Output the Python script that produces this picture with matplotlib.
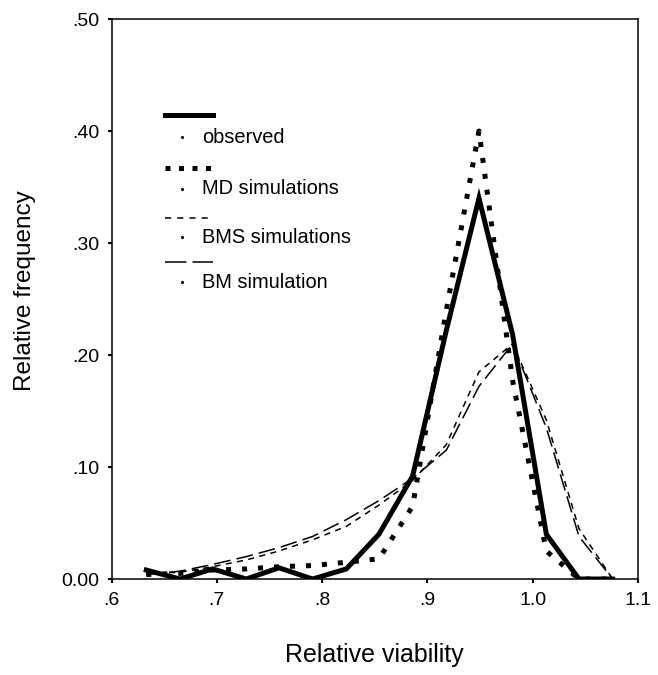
import matplotlib
matplotlib.use("Agg")
import matplotlib.pyplot as plt

# bin centres (relative viability) and relative frequencies
viability = [0.633, 0.665, 0.696, 0.728, 0.759, 0.791, 0.823, 0.854,
             0.886, 0.918, 0.949, 0.981, 1.013, 1.044, 1.076]
observed = [0.008, 0.0, 0.009, 0.0, 0.010, 0.0, 0.009, 0.040,
            0.092, 0.222, 0.340, 0.218, 0.040, 0.0, 0.0]
md_sim = [0.004, 0.005, 0.008, 0.009, 0.011, 0.012, 0.015, 0.018,
          0.065, 0.240, 0.400, 0.177, 0.025, 0.0, 0.0]
bms_sim = [0.005, 0.006, 0.011, 0.017, 0.025, 0.035, 0.047, 0.066,
           0.088, 0.120, 0.185, 0.210, 0.142, 0.045, 0.0]
bm_sim = [0.004, 0.007, 0.013, 0.020, 0.028, 0.038, 0.053, 0.070,
          0.090, 0.115, 0.172, 0.210, 0.135, 0.038, 0.0]

series_names = ["observed", "MD simulations", "BMS simulations", "BM simulation"]
xtick_vals = [0.6, 0.7, 0.8, 0.9, 1.0, 1.1]
xtick_labels = [".6", ".7", ".8", ".9", "1.0", "1.1"]
ytick_vals = [0.0, 0.1, 0.2, 0.3, 0.4, 0.5]
ytick_labels = ["0.00", ".10", ".20", ".30", ".40", ".50"]

plt.rcParams['font.family'] = ['Liberation Sans', 'DejaVu Sans']

fig = plt.figure(figsize=(6.58, 6.75), dpi=100)
ax = fig.add_axes([0.1695, 0.1422, 0.800, 0.8296])

styles = [
    dict(color="black", lw=3.6, ls="-", solid_joinstyle="miter"),
    dict(color="black", lw=3.6, ls=(0, (1, 2.2)), dash_capstyle="butt"),
    dict(color="black", lw=1.1, ls=(0, (4, 3.5))),
    dict(color="black", lw=1.1, ls=(0, (11, 4))),
]
# the key samples use slightly different dash spacing than the curves
key_styles = [dict(s) for s in styles]
key_styles[1]["ls"] = (0, (1, 1.7))
key_styles[2]["ls"] = (0, (4, 4))
key_styles[3]["ls"] = (0, (14, 4))
data = [observed, md_sim, bms_sim, bm_sim]

# thin dashed ones first so the thick lines sit on top
for i in [3, 2, 1, 0]:
    ax.plot(viability, data[i], **styles[i])

ax.set_xlim(0.6, 1.1)
ax.set_ylim(0.0, 0.5)
ax.set_xticks(xtick_vals)
ax.set_xticklabels(xtick_labels)
ax.set_yticks(ytick_vals)
ax.set_yticklabels(ytick_labels)
ax.tick_params(direction="out", length=3, width=1.5, labelsize=14, pad=6)

for sp in ax.spines.values():
    sp.set_linewidth(1.1)

ax.set_ylabel("Relative frequency", fontsize=17.5)
ax.yaxis.label.set_va("center")
ax.yaxis.set_label_coords(-0.164, 0.515)
ax.set_xlabel("Relative viability", fontsize=18)
ax.xaxis.label.set_va("center")
ax.xaxis.set_label_coords(0.5, -0.136)

# hand-made legend: sample line with the name underneath
line_y = [0.828, 0.734, 0.645, 0.566]
text_y = [0.789, 0.697, 0.610, 0.530]
for i, name in enumerate(series_names):
    ax.plot([0.102, 0.193], [line_y[i], line_y[i]], transform=ax.transAxes, **key_styles[i])
    ax.plot([0.134], [text_y[i]], "o", ms=1.2, color="black", transform=ax.transAxes)
    ax.text(0.172, text_y[i], name, transform=ax.transAxes, fontsize=14.4,
            va="center", ha="left")

fig.savefig("out.png", dpi=100)
